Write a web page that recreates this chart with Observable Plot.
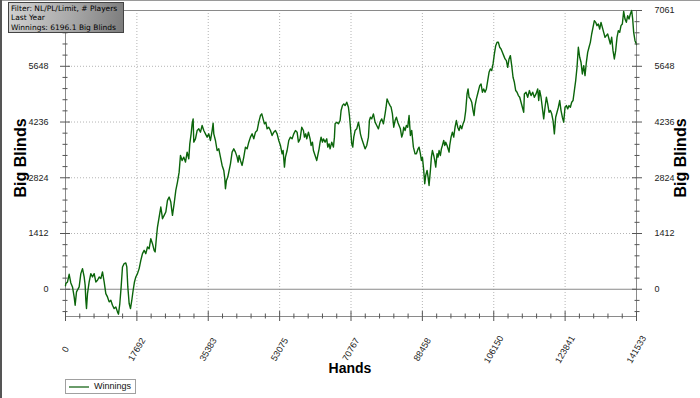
<!DOCTYPE html>
<html><head><meta charset="utf-8">
<script src="https://cdn.jsdelivr.net/npm/d3@7"></script>
<script src="https://cdn.jsdelivr.net/npm/@observablehq/plot@0.6"></script>
<style>
body{margin:0;background:#fff;}
#wrap{position:relative;width:700px;height:398px;overflow:hidden;font-family:"Liberation Sans",Arial,sans-serif;background:#fff;}
#wrap svg{position:absolute;left:0;top:0;}
.ov{position:absolute;white-space:nowrap;}
.ttl{font-weight:bold;color:#000;}
#info{left:8px;top:2px;width:114px;height:29px;border:1px solid #444;background:linear-gradient(100deg,#d2d2d2 0%,#a8a8a8 55%,#7c7c7c 100%);}
.ln{height:9px;font-family:"DejaVu Sans",sans-serif;font-size:7.5px;line-height:9px;color:#000;}
#legend{left:65px;top:379px;width:69px;height:13px;border:1px solid #a0a0a0;background:#fff;}
#legsw{left:69px;top:386px;width:20px;height:2px;background:#6a9c6a;}
#legtx{left:94px;top:381px;font-size:9px;line-height:11px;color:#111;}
#topline{left:0;top:0;width:700px;height:1px;background:#9a9a9a;}
#leftline{left:0;top:0;width:2px;height:398px;background:#555;}
</style></head><body><div id="wrap"></div>
<script>
// ---- data ----
const hands = [
0,
83,496,909,1322,1735,2148,2395,2726,3387,3800,4213,4626,4873,5039,5204,5452,5865,6278,6691,7104,7517,7930,8343,8756,9169,9582,9995,10408,10821,11234,11647,12060,12473,12886,13133,13464,13794,14125,14538,14951,15198,15446,15777,16107,16437,16768,17098,17429,17842,18255,18668,19081,19494,19907,20320,20733,21146,21559,21972,22219,22550,22798,23211,23624,23871,24037,24450,24863,25276,25689,26102,26349,26515,26928,27341,27754,28167,
28497,28910,29323,29736,30149,30562,30810,31140,31388,31636,31801,32214,32627,33040,33453,33866,34279,34692,35105,35518,35931,36344,36592,36757,37170,37583,37996,38409,38822,39235,39483,39648,39896,40226,40474,40887,41300,41713,42126,42539,42787,43035,43365,43778,44191,44604,45017,45430,45843,46256,46669,47082,47495,47908,48321,48651,48982,49312,49643,49973,50386,50799,51212,51625,52038,52451,52864,53277,53690,53938,54268,54515,54929,55342,55755,56168,56581,56994,57407,
57737,58150,58563,58976,59224,59554,59802,60215,60628,60876,61206,61454,61867,62280,62528,62858,63106,63354,63684,63932,64345,64758,65006,65336,65584,65997,66410,66658,66823,67236,67649,68062,68310,68640,68971,69301,69714,70127,70375,70625,70953,71201,71449,71779,72192,72605,72853,73100,73431,73844,74257,74670,75083,75331,75579,75909,76322,76735,77148,77561,77974,78387,78800,79213,79461,79709,80039,80452,80700,81030,81361,81691,82021,82352,82682,83013,83343,83591,83839,84169,84499,84830,85160,85491,85821,86234,86647,
86978,87391,87639,87969,88217,88465,88795,89043,89291,89621,89869,90117,90447,90695,90943,91273,91521,91769,92099,92347,92595,92925,93173,93421,93751,93999,94247,94577,94825,95073,95238,95568,95899,96229,96560,96890,97220,97551,97881,98212,98542,98872,99203,99533,99781,100029,100359,100690,101020,101268,101516,101846,102259,102672,103002,103333,103663,103994,104324,104654,104985,105315,105646,105976,106306,106637,106967,107298,107628,107958,108289,108619,108950,109280,109610,109941,110271,110602,110932,111262,111593,111923,112254,112584,112914,113245,113575,
113740,114153,114566,114979,115392,115805,116218,116631,117044,117292,117540,117870,118283,118531,118861,119192,119522,119852,120183,120513,120844,121174,121504,121835,122165,122496,122826,123156,123487,123817,124148,124478,124808,125139,125469,125800,126130,126460,126791,127121,127452,127782,128112,128443,128773,129104,129434,129764,130095,130425,130756,131086,131416,131747,132077,132408,132738,133068,133399,133729,134060,134390,134720,135051,135381,135712,136042,136372,136703,137033,137364,137694,138024,138355,138685,139016,139346,139677,140007,140337,140585,140833,141164,141420,141533
];
const winnings = [
90,
143,185,379,160,59,-194,-405,-67,59,396,523,312,101,-278,-489,-110,185,396,312,396,185,228,312,270,438,185,-110,-194,-320,-278,-405,-489,-447,-573,-632,-362,59,565,649,666,565,59,-362,-489,-278,-25,185,312,396,523,733,902,986,902,1071,1028,1281,1155,986,944,1324,1576,1829,2082,1914,1787,1871,1956,2251,2335,2209,1998,1871,2167,2504,2714,2967,
3389,3262,3347,3220,3473,3305,3684,3937,4190,4316,3726,3810,4021,4063,3979,4148,4021,3937,3853,3937,3768,4021,4207,3937,3768,3515,3557,3347,3136,3010,2799,2546,2757,2841,2967,3178,3473,3557,3473,3347,3220,3389,3262,3136,3347,3600,3557,3726,3853,3937,3810,3979,4021,4232,4400,4443,4316,4190,4232,4063,4105,4021,3895,3979,4021,3937,3768,3642,3431,3515,3094,3347,3515,3768,3853,3810,3937,4021,3979,
3726,3810,4105,4021,3853,3937,3810,3979,3810,3642,3726,3515,3389,3262,3389,3557,3726,3853,3726,3810,3726,3810,3600,3684,3557,3726,3600,3853,4190,4232,4190,4274,4527,4653,4696,4653,4738,4611,4400,4105,3684,3600,3853,4021,4063,4232,4105,3937,3810,3684,3557,3642,3853,4274,4358,4316,4443,4232,4148,4063,4232,4316,4190,4443,4611,4822,4738,4653,4611,4443,4105,4274,4358,4232,4148,4063,3853,3937,4105,4021,4148,4105,4400,3895,4021,3600,3431,
3431,3557,3600,3431,3262,3347,3010,2672,2883,3010,2841,2630,3010,3347,3515,3389,3262,3094,3431,3347,3515,3389,3557,3642,3768,3642,3726,3642,3557,3473,3642,3853,3979,3853,4105,4274,4105,4021,4148,4063,4190,4274,4527,4948,5075,4864,4822,4738,4527,4400,4653,4822,4991,5159,5201,4991,5075,4991,5075,5286,5496,5581,5539,5707,5960,6171,6255,6255,6129,6086,6002,5918,5834,5791,5623,5834,5918,5665,5370,5243,5033,4991,4906,4864,4738,4611,4485,
4948,4991,4864,5033,4906,4991,4864,4948,5075,4780,5033,4864,4527,4316,4611,4864,4696,4485,4527,4443,4274,3937,4358,4485,4611,4780,4527,4358,4232,4611,4653,4569,4653,4611,4738,4780,5033,5286,5623,6129,5876,5749,5454,5665,5412,5749,6002,6129,6255,6466,6634,6803,6761,6677,6719,6592,6761,6634,6508,6382,6424,6466,6339,6213,6382,6044,5834,6044,6382,6550,6508,6677,6719,7040,6845,6761,6930,6845,6972,7061,6845,6508,6297,6230,6196
];
const xTicks = [0,17692,35383,53075,70767,88458,106150,123841,141533];
const yTicks = [0,1412,2824,4236,5648,7061];
const xMinor = [3538,7077,10615,14153,21230,24769,28307,31845,38922,42460,45999,49537,56614,60152,63691,67229,74306,77844,81383,84921,91998,95536,99075,102613,109690,113228,116767,120305,127382,130920,134459,137997];
const yMinor = [-565,-282,282,565,847,1130,1695,1977,2259,2542,3107,3389,3671,3954,4519,4801,5083,5366,5931,6213,6496,6778];
const seriesName = "Winnings";
const infoLines = ["Filter: NL/PL/Limit, # Players","Last Year","Winnings: 6196.1 Big Blinds"];
const yTitle = "Big Blinds", xTitle = "Hands";

const data = hands.map((h,i)=>({hands:h, bb:winnings[i]}));
const tickStroke = "#555";
const grid = {stroke:"#b4b4b4", strokeOpacity:1, strokeDasharray:"1,2"};
const fmt = d => `${d}`;

const chart = Plot.plot({
  width:700, height:398,
  marginLeft:65, marginRight:64, marginTop:10, marginBottom:82,
  x:{domain:[0,141533]},
  y:{domain:[-690,7061]},
  style:{fontFamily:"Liberation Sans, Arial, sans-serif", fontSize:"9px", color:"#222", background:"transparent"},
  marks:[
    Plot.gridX(xTicks.slice(1,-1), grid),
    Plot.gridY(yTicks.slice(1,-1), grid),
    Plot.ruleY([0], {stroke:"#8a8a8a"}),
    Plot.frame({stroke:"#8a8a8a"}),
    Plot.line(data, {x:"hands", y:"bb", stroke:"#0b650b", strokeWidth:1.4}),
    Plot.axisY(yMinor, {anchor:"left", tickSize:5, dx:2.5, fill:"none", stroke:tickStroke, label:null}),
    Plot.axisY(yTicks, {anchor:"left", tickSize:10, dx:5, fill:"none", stroke:tickStroke, label:null}),
    Plot.axisY(yMinor, {anchor:"right", tickSize:5, dx:-2.5, fill:"none", stroke:tickStroke, label:null}),
    Plot.axisY(yTicks, {anchor:"right", tickSize:10, dx:-5, fill:"none", stroke:tickStroke, label:null}),
    Plot.axisX(xMinor, {anchor:"bottom", tickSize:5, dy:-2.5, fill:"none", stroke:tickStroke, label:null}),
    Plot.axisX(xTicks, {anchor:"bottom", tickSize:10, dy:-5, fill:"none", stroke:tickStroke, label:null}),
    Plot.axisY(yTicks, {anchor:"left", tickSize:0, tickPadding:17, tickFormat:fmt, stroke:"none", label:null}),
    Plot.axisY(yTicks, {anchor:"right", tickSize:0, tickPadding:18, tickFormat:fmt, stroke:"none", label:null}),
    Plot.axisX(xTicks, {anchor:"bottom", tickSize:0, tickPadding:33, tickRotate:-60, textAnchor:"middle", lineAnchor:"middle", tickFormat:fmt, stroke:"none", label:null})
  ]
});

const wrap = document.getElementById("wrap");
wrap.appendChild(chart);

function add(id, cls, html, css){const d=document.createElement("div");if(id)d.id=id;d.className="ov "+(cls||"");d.innerHTML=html||"";if(css)Object.assign(d.style,css);wrap.appendChild(d);return d;}
add("topline","","");
add("leftline","","");
add("info","","");
infoLines.forEach((t,i)=>add(null,"ln",t,{left:"11px",top:(3.5+i*9.6)+"px"}));
add(null,"ttl",yTitle,{left:"21px",top:"158px",fontSize:"16px",transform:"translate(-50%,-50%) rotate(-90deg)"});
add(null,"ttl",yTitle,{left:"681px",top:"158px",fontSize:"16px",transform:"translate(-50%,-50%) rotate(-90deg)"});
add(null,"ttl",xTitle,{left:"350px",top:"368px",fontSize:"14px",fontFamily:"'Liberation Sans Narrow','Liberation Sans',Arial,sans-serif",transform:"translate(-50%,-50%)"});
add("legend","","");
add("legsw","","");
add("legtx","",seriesName);
</script></body></html>
